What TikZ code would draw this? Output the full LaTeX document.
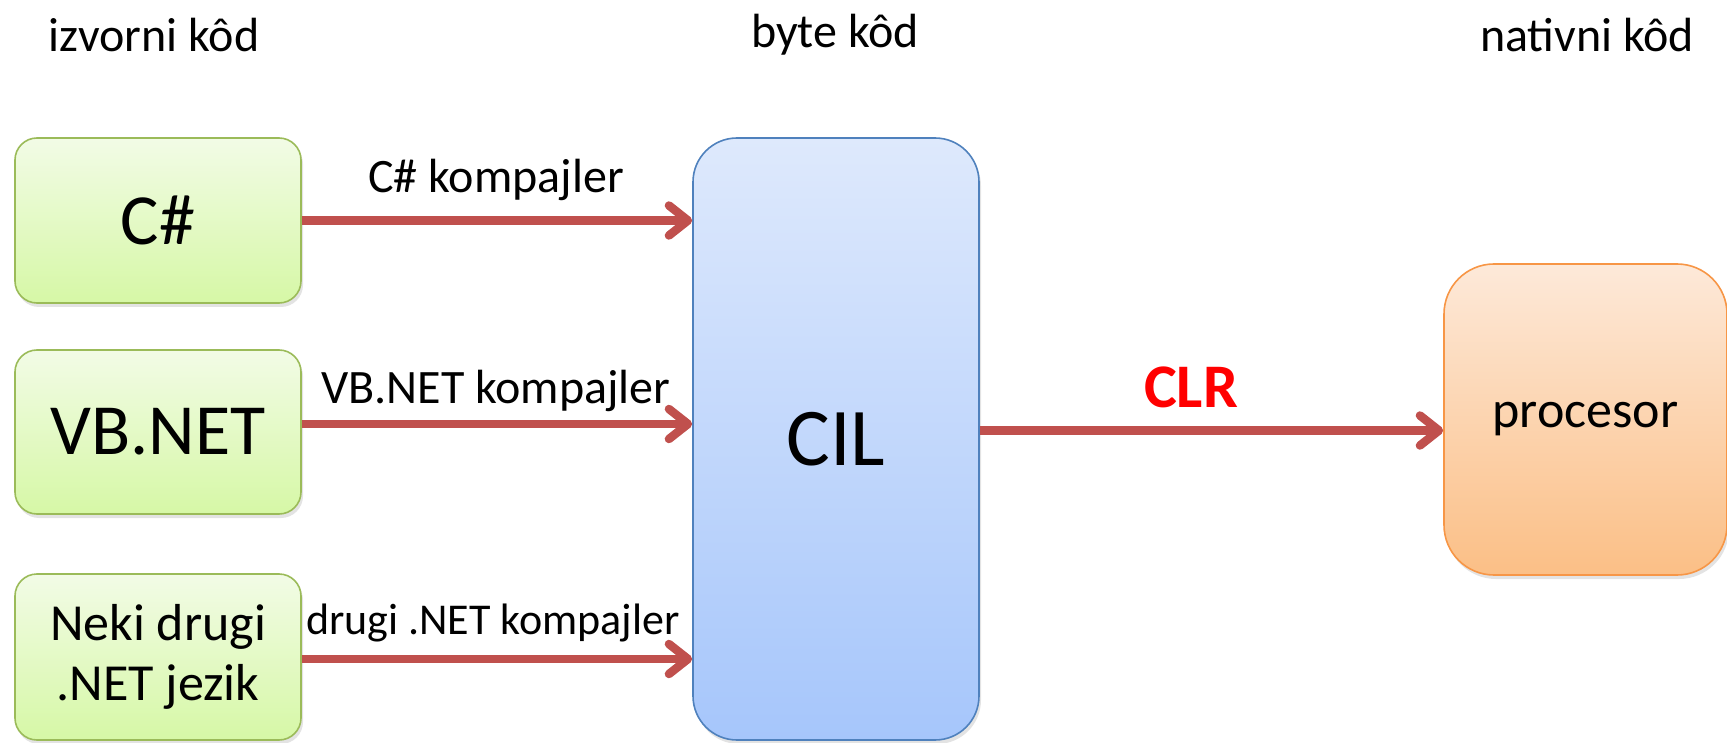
\documentclass[tikz,border=0pt]{standalone}
\usepackage{fontspec}
\setmainfont{Carlito}
\usetikzlibrary{arrows.meta,shadows}
\definecolor{grnB}{HTML}{9BBB59}
\definecolor{grnT}{HTML}{F2FBE6}
\definecolor{grnD}{HTML}{D6F8A6}
\definecolor{bluB}{HTML}{4F81BD}
\definecolor{bluT}{HTML}{DEE9FC}
\definecolor{bluD}{HTML}{A6C6FB}
\definecolor{orB}{HTML}{F79646}
\definecolor{orT}{HTML}{FDE9D9}
\definecolor{orD}{HTML}{FBBF86}
\definecolor{arrC}{HTML}{C0504D}
\tikzset{
  box/.style={rounded corners=#1, line width=1.6pt, align=center, inner sep=0pt,
    drop shadow={opacity=0.22, shadow xshift=2pt, shadow yshift=-4pt}},
  srcbox/.style={box=22pt, draw=grnB, top color=grnT, bottom color=grnD,
    minimum width=286pt},
  arr/.style={draw=arrC, line width=8.5pt,
    -{Straight Barb[length=19pt,width=30pt,line cap=round,line join=round]}},
  lbl/.style={font=\fontsize{48}{58}\selectfont, inner sep=0pt},
  clbl/.style={font=\fontsize{44}{52}\selectfont, inner sep=0pt},
}
\begin{document}
\begin{tikzpicture}[x=1pt,y=-1pt]
\useasboundingbox (0,0) rectangle (1727,743);
% column headers
\node[lbl] (h1) at (154,35) {izvorni kôd};
\node[lbl] (h2) at (835,35) {byte kôd};
\node[lbl] (h3) at (1587,35) {nativni kôd};
% boxes
\node[srcbox, minimum height=165pt, font=\fontsize{72}{80}\selectfont] (cs) at (158,220.5) {C\#};
\node[srcbox, minimum height=164pt, font=\fontsize{72}{80}\selectfont] (vb) at (158,432) {VB.NET};
\node[srcbox, minimum height=166pt, font=\fontsize{52}{62}\selectfont] (ot) at (158,657) {Neki drugi\\[-2pt].NET jezik};
\node[box=44pt, draw=bluB, top color=bluT, bottom color=bluD, minimum width=286pt,
  minimum height=602pt, font=\fontsize{82}{90}\selectfont] (cil) at (836,439) {CIL};
\node[box=50pt, draw=orB, top color=orT, bottom color=orD, minimum width=283pt,
  minimum height=311pt, font=\fontsize{52}{62}\selectfont] (proc) at (1585.5,419.5) {procesor};
% arrows
\draw[arr] (cs.east) -- (cs.east -| cil.west);
\draw[arr] ([yshift=8pt]vb.east) -- ([yshift=8pt]vb.east -| cil.west);
\draw[arr] ([yshift=-2pt]ot.east) -- ([yshift=-2pt]ot.east -| cil.west);
\draw[arr] ([yshift=-11pt]proc.west -| cil.east) -- ([yshift=-11pt]proc.west);
% arrow labels
\node[lbl] (l1) at (496,180) {C\# kompajler};
\node[lbl] (l2) at (496,391) {VB.NET kompajler};
\node[clbl] (l3) at (493,623) {drugi .NET kompajler};
\node[font=\fontsize{62}{70}\selectfont\bfseries, text=red, inner sep=0pt] (l4) at (1191,387) {CLR};
\end{tikzpicture}
\end{document}
